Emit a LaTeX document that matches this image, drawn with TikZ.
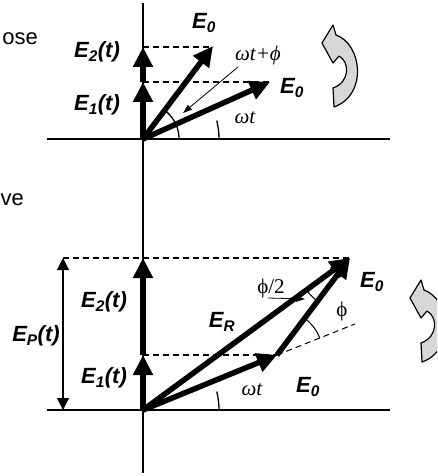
\documentclass[tikz,border=0pt]{standalone}
\usepackage{fontspec}
\setmainfont{Liberation Serif}
\newfontfamily\labfont{Liberation Sans}
\usetikzlibrary{arrows.meta}
\definecolor{rotgray}{RGB}{215,215,215}
\tikzset{
  axisline/.style={line width=1.4pt},
  vec/.style={line width=5.5pt,-{Triangle[length=20pt,width=19pt]}},
  guide/.style={line width=1.3pt,dash pattern=on 6pt off 4pt},
  pointer/.style={line width=0.8pt,-{Triangle[length=9pt,width=6pt]}},
  anglearc/.style={line width=1.3pt},
  elab/.style={font=\labfont\bfseries\itshape\fontsize{22}{22}\selectfont,inner sep=0pt},
  slab/.style={font=\fontsize{21}{21}\selectfont\itshape,inner sep=0pt},
  ulab/.style={font=\fontsize{21}{21}\selectfont,inner sep=0pt},
  cutlab/.style={font=\labfont\fontsize{22}{22}\selectfont,inner sep=0pt},
  rotarrow/.pic={
    \draw[line width=1.2pt,fill=rotgray,line join=round]
      (322,43) -- (333,25) -- (336,35)
      .. controls (362,44) and (368,95) .. (334,107)
      -- (333,88)
      .. controls (350,82) and (350,62) .. (339,56)
      -- (333,63) -- cycle;
  }
}
\begin{document}
\begin{tikzpicture}[x=1pt,y=-1pt]
\useasboundingbox (0,0) rectangle (437,476);
\clip (0,0) rectangle (437,476);

% coordinates
\coordinate (VT) at (143,3);
\coordinate (VB) at (143,473);
\coordinate (TL) at (47,139);
\coordinate (TR) at (390,139);
\coordinate (BL) at (47,410);
\coordinate (BR) at (390,410);
\coordinate (O1) at (143,139);
\coordinate (A1) at (143,82);
\coordinate (A2) at (143,47);
\coordinate (B1) at (213,46);
\coordinate (B2) at (270,82);
\coordinate (O2) at (143,410);
\coordinate (C1) at (143,355);
\coordinate (C2) at (143,258);
\coordinate (D1) at (277,355);
\coordinate (D2) at (350,258);
\coordinate (D3) at (355,324);
\coordinate (P1) at (63,258);
\coordinate (P2) at (63,410);

% axes
\draw[axisline] (VT) -- (VB);
\draw[axisline] (TL) -- (TR);
\draw[axisline] (BL) -- (BR);

% dashed guides
\draw[guide] (A2) -- (A2 -| B1);
\draw[guide] (A1) -- (B2);
\draw[guide] (P1) -- (D2);
\draw[guide] (C1) -- (D1);
\draw[line width=1pt,dash pattern=on 6pt off 4pt] (D1) -- (D3);

% angle arcs
\draw[anglearc] plot[domain=0:53,samples=30] ({143+36*cos(\x)},{139-36*sin(\x)});
\draw[anglearc] plot[domain=0:14,samples=15] ({143+76*cos(\x)},{139-76*sin(\x)});
\draw[anglearc] plot[domain=0:14,samples=15] ({143+76*cos(\x)},{410-76*sin(\x)});
\draw[line width=1pt] plot[domain=216:232,samples=15] ({350+54*cos(\x)},{258-54*sin(\x)});
\draw[line width=1pt] plot[domain=22:52,samples=20] ({277+46*cos(\x)},{355-46*sin(\x)});

% top vectors
\draw[vec] (O1) -- (A1);
\draw[vec] (A1) -- (A2);
\draw[vec] (O1) -- (B1);
\draw[vec] (O1) -- (B2);

% bottom vectors
\draw[vec] (O2) -- (C1);
\draw[vec] (C1) -- (C2);
\draw[vec] (O2) -- (D1);
\draw[vec] (D1) -- (D2);
\draw[vec] (O2) -- (D2);

% E_P double arrow
\draw[line width=1.2pt,{Triangle[length=12pt,width=12pt]}-{Triangle[length=12pt,width=12pt]}] (P1) -- (P2);

% pointers
\coordinate (Q1) at (238,67);
\coordinate (Q2) at (183,113);
\draw[pointer] (Q1) -- (Q2);
\coordinate (R1) at (268,298);
\coordinate (R2) at (305,299);
\draw[pointer] (R1) -- (R2);

% rotation arrows
\pic at (0,0) {rotarrow};
\pic at (88,255) {rotarrow};

% labels
\node[cutlab,anchor=east] (tose) at (38,39) {ose};
\node[cutlab,anchor=west] (tve) at (0.5,200) {ve};
\node[elab] (lE0a) at (204,23) {E\textsubscript{0}};
\node[elab] (lE0b) at (292,88) {E\textsubscript{0}};
\node[elab] (lE2a) at (97,52) {E\textsubscript{2}(t)};
\node[elab] (lE1a) at (97,105) {E\textsubscript{1}(t)};
\node[slab] (lwtp) at (258,55) {ωt+ϕ};
\node[slab] (lwta) at (245,118) {ωt};
\node[elab] (lE2b) at (104,302) {E\textsubscript{2}(t)};
\node[elab] (lEP) at (36,336) {E\textsubscript{P}(t)};
\node[elab] (lE1b) at (104,378) {E\textsubscript{1}(t)};
\node[elab] (lER) at (222,322) {E\textsubscript{R}};
\node[elab] (lE0c) at (372,282) {E\textsubscript{0}};
\node[elab] (lE0d) at (308,387) {E\textsubscript{0}};
\node[slab] (lwtb) at (252,390) {ωt};
\node[ulab] (lphh) at (271,288) {ϕ/2};
\node[ulab] (lph) at (342,311) {ϕ};
\end{tikzpicture}
\end{document}
